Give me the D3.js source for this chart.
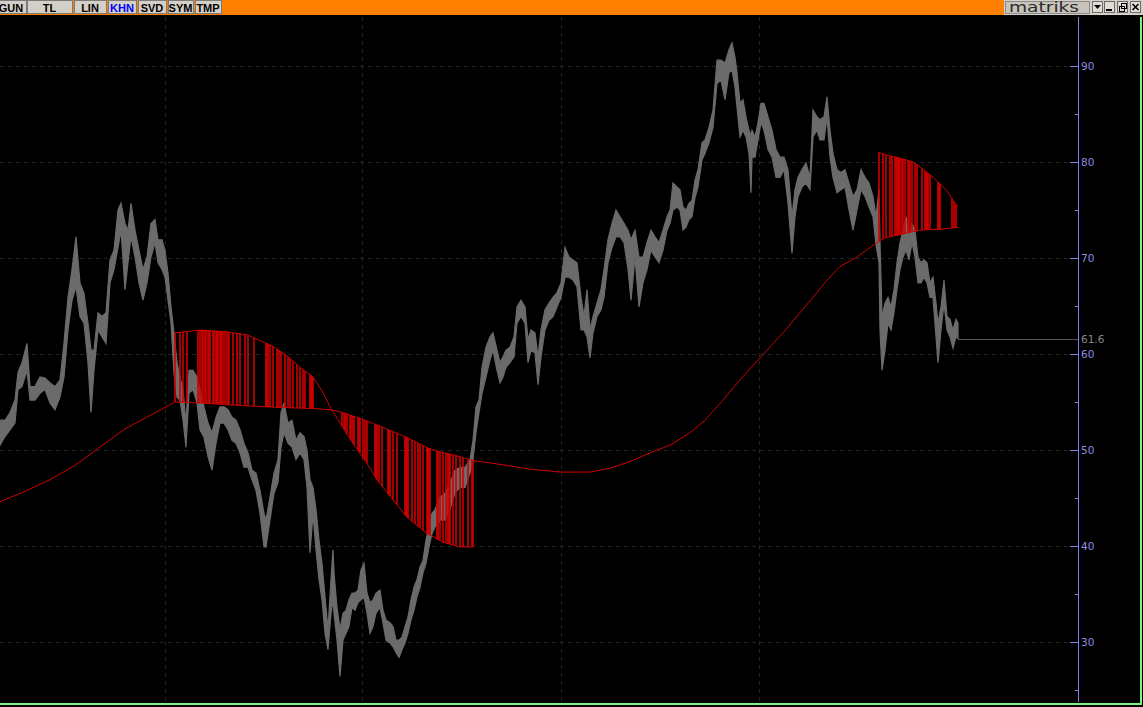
<!DOCTYPE html>
<html><head><meta charset="utf-8">
<script src="https://cdn.jsdelivr.net/npm/d3@7"></script>
<style>
html,body{margin:0;padding:0;background:#000;overflow:hidden}
svg{display:block}
</style></head><body>
<svg id="c" width="1143" height="707"></svg>
<script>
// ---------- data ----------
const tabs = ["GUN","TL","LIN","KHN","SVD","SYM","TMP"];
const activeTab = "KHN";
const brand = "matriks";
const yMajorTicks = [30,40,50,60,70,80,90];
const yMinorTicks = [25,35,45,55,65,75,85];
const yearStartBars = [165,362,561,759];
const lastValue = 61.6;

const priceBars = [
 0,5,10,15,18,22,27,30,35,40,
 45,50,55,60,64,68,72,76,80,84,
 88,91,94,98,102,106,110,114,118,121,
 125,128,131,135,139,143,147,151,155,158,
 162,165,168,171,174,177,180,183,186,189,
 193,197,200,204,208,212,216,220,224,228,
 232,236,240,244,248,252,256,260,264,266,
 270,274,278,281,284,288,292,296,300,304,
 307,310,313,316,319,322,325,328,331,333,
 334,337,340,343,346,349,352,355,358,361,
 364,367,370,373,376,380,383,386,390,393,
 396,399,402,405,408,411,414,417,420,423,
 426,429,432,435,440,445,450,455,460,465,
 470,473,476,479,482,486,490,493,497,500,
 503,506,510,514,517,521,525,528,531,535,
 538,541,545,549,553,557,561,565,569,573,
 577,581,584,587,590,593,597,601,604,608,
 612,616,620,624,628,631,635,639,643,647,
 651,655,659,663,667,670,673,677,680,683,
 686,689,692,695,698,702,705,709,713,717,
 721,725,729,732,735,737,740,743,746,749,
 751,752,755,758,761,764,768,772,776,780,
 784,788,792,795,798,802,806,810,813,817,
 820,824,827,830,833,837,841,845,849,853,
 857,861,865,869,873,876,879,880,882,885,
 888,891,894,897,900,903,906,909,912,915,
 918,921,924,927,930,933,936,938,941,944,
 947,950,953,956,958];
const priceHigh = [
 53.1,53.1,53.9,55.2,58.1,59.1,61.1,56.6,56.6,57.6,
 57.5,57.0,56.6,57.3,61.1,65.9,68.8,72.2,67.4,66.3,
 63.2,60.4,60.4,64.3,63.9,64.3,69.8,70.8,75.0,75.7,
 73.6,72.9,75.7,72.9,70.8,68.8,70.1,73.6,74.0,71.9,
 71.9,70.8,68.4,64.9,62.2,59.1,57.6,56.3,52.8,58.3,
 58.3,57.6,56.3,54.5,52.8,51.8,53.4,54.5,54.5,54.2,
 53.4,53.1,52.1,50.7,49.7,47.9,47.6,45.8,43.4,42.7,
 45.1,47.6,49.0,53.9,54.9,52.8,53.1,51.0,51.8,51.4,
 50.0,46.9,46.1,43.8,40.6,38.2,34.7,31.3,36.5,39.6,
 37.2,33.6,31.3,33.0,33.3,34.4,35.1,35.1,35.4,37.5,
 38.2,35.1,34.1,34.4,35.1,35.4,33.3,32.3,32.0,31.6,
 30.2,30.2,30.5,31.6,32.6,34.4,35.7,36.5,37.8,38.5,
 40.6,42.0,43.4,43.8,45.1,45.5,46.6,47.9,48.2,48.2,
 49.0,51.0,54.5,55.2,58.6,60.7,61.8,62.2,60.4,59.1,
 59.7,60.4,60.7,61.8,64.9,65.6,64.9,61.5,62.5,62.2,
 59.7,62.5,64.6,65.3,65.9,66.4,67.4,71.1,70.1,69.8,
 69.5,65.9,63.9,66.7,62.5,63.9,65.3,66.7,68.8,71.9,
 73.6,75.0,74.3,73.6,72.9,71.9,72.9,70.1,70.1,71.6,
 72.9,72.2,71.6,72.9,74.3,75.0,77.8,77.4,77.1,75.3,
 75.0,75.7,76.0,78.1,79.2,82.0,82.3,83.6,85.4,90.6,
 90.6,90.3,91.7,92.4,90.9,89.3,86.1,86.5,84.7,83.3,
 82.8,83.3,82.6,84.1,86.1,86.1,84.7,83.3,81.3,80.5,
 80.5,79.2,74.3,77.1,78.4,79.2,79.9,78.4,85.4,84.7,
 84.4,84.7,86.8,83.3,80.9,79.2,78.9,79.2,77.8,76.4,
 77.1,79.2,78.4,77.8,76.4,74.3,77.1,71.6,63.9,65.3,
 65.9,64.9,66.7,69.5,71.6,72.9,74.3,72.2,73.6,72.9,
 70.1,69.5,69.8,69.5,67.4,68.0,65.3,63.2,64.9,67.7,
 63.9,63.6,62.5,63.6,63.2];
const priceLow = [
 50.5,51.4,52.1,52.8,56.3,56.6,58.3,55.2,55.2,55.9,
 56.3,54.9,54.2,55.5,57.6,62.5,65.6,67.0,63.9,63.2,
 59.1,53.9,58.3,62.5,61.8,61.1,67.4,68.8,71.1,72.9,
 66.7,69.5,72.2,70.1,67.4,65.6,67.4,70.1,71.6,69.5,
 68.8,68.0,65.6,63.2,58.0,55.5,55.2,53.1,50.3,55.9,
 56.3,54.9,52.1,51.3,49.3,47.9,50.7,52.8,52.8,52.1,
 51.0,50.7,49.7,48.2,48.2,46.9,45.8,43.4,39.9,39.9,
 42.7,45.5,46.6,50.3,51.8,50.7,50.3,49.0,49.7,49.0,
 46.1,39.3,43.4,39.6,36.5,34.4,30.9,29.2,33.0,34.4,
 33.0,30.2,26.4,30.2,30.9,31.6,33.6,33.3,34.1,34.4,
 34.7,33.0,30.9,31.6,33.0,33.6,32.0,30.2,29.9,29.5,
 28.9,28.4,29.2,29.9,30.9,32.3,33.3,34.7,35.7,37.2,
 38.2,39.9,41.3,42.0,42.7,42.7,43.8,45.5,46.1,46.1,
 47.6,49.0,51.8,53.9,55.9,57.6,59.4,60.4,58.3,57.0,
 57.6,58.6,59.1,59.7,63.2,63.9,63.2,59.1,60.4,60.1,
 56.8,59.7,62.5,63.5,63.9,64.9,65.9,68.0,68.0,67.7,
 67.0,62.5,62.5,61.8,59.6,62.2,63.9,64.6,65.9,69.5,
 71.1,72.2,72.2,71.6,68.8,65.6,70.1,64.9,67.4,68.8,
 70.8,70.1,69.5,70.8,72.9,73.6,75.0,75.3,75.0,72.9,
 73.2,74.0,74.3,76.3,77.4,80.2,80.9,82.0,83.6,88.2,
 88.5,86.5,89.3,89.6,87.8,85.7,82.6,83.3,82.6,80.9,
 76.8,80.5,80.5,82.3,84.1,83.3,81.3,80.5,78.4,78.4,
 79.2,75.7,70.5,74.3,76.4,77.4,77.8,77.1,82.6,83.3,
 82.3,82.3,84.7,80.5,78.4,76.8,77.1,77.4,75.0,72.9,
 75.0,77.1,76.4,75.3,74.3,71.4,69.5,62.5,58.3,60.4,
 63.2,62.5,64.3,66.7,68.8,70.1,70.8,69.8,71.6,70.1,
 67.4,67.4,68.0,67.4,65.9,65.9,61.8,59.1,62.5,65.3,
 62.5,61.8,60.6,61.8,61.6];

// long moving average
const maBars = [0,25,50,75,100,125,150,175,200,230,265,315,330,343,365,377,393,407,428,440,453,473,500,530,560,590,610,630,650,670,690,705,723,740,760,783,800,817,827,840,857,870,880,885,903,920,940,958];
const maVals = [44.6,45.7,46.9,48.4,50.3,52.2,53.6,55.0,54.9,54.7,54.5,54.3,54.2,53.9,53.1,52.6,51.9,51.3,50.2,49.8,49.5,48.9,48.5,48.0,47.7,47.7,48.1,48.8,49.7,50.5,51.8,53.1,55.2,57.3,59.6,62.2,64.3,66.4,67.7,69.1,70.1,71.1,71.8,72.1,72.5,72.9,73.0,73.2];

// signal band (first episode)
const bandABars = [175,200,227,247,260,273,287,300,313,323,330,340,353,367,377,393,407,427,443,460,473];
const bandAVals = [62.2,62.5,62.3,62.0,61.4,60.8,59.8,58.6,57.6,56.0,54.5,52.8,50.7,48.6,46.9,44.8,43.0,41.3,40.4,39.9,39.9];
// signal band (second episode)
const bandBBars = [879,887,900,913,920,933,947,953,958];
const bandBVals = [81.0,80.7,80.4,80.0,79.5,78.4,77.0,76.0,75.3];

// bars where the signal line jumps between the MA and the band
const signalBars1 = [175,180,183,187,198,200,202,203,205,206,208,209,210,213,214,216,217,218,220,221,222,224,226,228,229,233,237,240,245,248,254,266,267,268,270,273,277,279,281,285,288,290,293,297,300,303,305,310,311,312,313];
const signalBars2 = [342,344,345,347,350,351,353,354,358,359,360,363,365,367,375,376,377,379,382,388,389,390,393,397,405,406,407,408,412,415,418,420,423,427,428,429,430,437,438,440,443,446,448,449,450,453,456,460,463,468,472,473];
const signalBars3 = [879,883,886,890,892,895,896,897,898,899,900,902,903,905,908,909,910,912,915,917,922,925,926,927,928,930,938,939,940,952,954,956];

(function () {
// ---------- layout ----------
const W = 1143, H = 707;
const axisX = 1078;
const plotTop = 17, plotBottom = 702;
const svg = d3.select("#c");

svg.append("rect").attr("width", W).attr("height", H).attr("fill", "#000");

const x = d3.scaleLinear().domain([0, axisX]).range([0, axisX]);
const y = d3.scaleLinear().domain([23.75, 95.1]).range([plotBottom, plotTop]);

const maAt = d3.scaleLinear().domain(maBars).range(maVals);
const bandAAt = d3.scaleLinear().domain(bandABars).range(bandAVals);
const bandBAt = d3.scaleLinear().domain(bandBBars).range(bandBVals);

// grid
const grid = svg.append("g").attr("stroke", "#232323").attr("stroke-dasharray", "4,4").attr("shape-rendering", "crispEdges");
grid.append("g").selectAll("line").data(yMajorTicks).join("line")
  .attr("x1", 0).attr("x2", axisX - 8)
  .attr("y1", d => Math.round(y(d)) + 0.5).attr("y2", d => Math.round(y(d)) + 0.5);
grid.append("g").selectAll("line").data(yearStartBars).join("line")
  .attr("x1", d => Math.round(x(d)) + 0.5).attr("x2", d => Math.round(x(d)) + 0.5)
  .attr("y1", plotTop).attr("y2", plotBottom);

// price band
const price = priceBars.map((b, i) => ({b, h: priceHigh[i], l: priceLow[i]}));
svg.append("path").datum(price)
  .attr("fill", "#6b6b6b")
  .attr("stroke", "#6b6b6b").attr("stroke-width", 1.2)
  .attr("d", d3.area().x(d => x(d.b)).y0(d => y(d.l)).y1(d => y(d.h)));

// last value line
svg.append("line")
  .attr("x1", x(priceBars[priceBars.length - 1])).attr("x2", axisX)
  .attr("y1", Math.round(y(lastValue)) + 0.5).attr("y2", Math.round(y(lastValue)) + 0.5)
  .attr("stroke", "#555").attr("shape-rendering", "crispEdges");

// moving average and bands
const red = "#d00000";
const lineGen = d3.line().x(d => x(d[0])).y(d => y(d[1]));
svg.append("path").datum(maBars.map((b, i) => [b, maVals[i]]))
  .attr("fill", "none").attr("stroke", red).attr("stroke-width", 1).attr("d", lineGen);
svg.append("path").datum(bandABars.map((b, i) => [b, bandAVals[i]]))
  .attr("fill", "none").attr("stroke", red).attr("stroke-width", 1).attr("d", lineGen);
svg.append("path").datum(bandBBars.map((b, i) => [b, bandBVals[i]]))
  .attr("fill", "none").attr("stroke", red).attr("stroke-width", 1).attr("d", lineGen);

// signal jumps
const sig = svg.append("g").attr("stroke", red).attr("stroke-width", 1.6);
function drawSignals(bars, bandAt) {
  sig.append("g").selectAll("line").data(bars).join("line")
    .attr("x1", d => x(d)).attr("x2", d => x(d))
    .attr("y1", d => y(maAt(d))).attr("y2", d => y(bandAt(d)));
}
drawSignals(signalBars1, bandAAt);
drawSignals(signalBars2, bandAAt);
drawSignals(signalBars3, bandBAt);

// y axis (right)
const axisColor = "#8080e8";
const ax = svg.append("g").attr("shape-rendering", "crispEdges");
ax.append("line").attr("x1", axisX + 0.5).attr("x2", axisX + 0.5).attr("y1", plotTop).attr("y2", plotBottom).attr("stroke", axisColor);
ax.append("g").selectAll("line").data(yMajorTicks).join("line")
  .attr("x1", axisX - 8).attr("x2", axisX)
  .attr("y1", d => Math.round(y(d)) + 0.5).attr("y2", d => Math.round(y(d)) + 0.5)
  .attr("stroke", axisColor);
ax.append("g").selectAll("line").data(yMinorTicks).join("line")
  .attr("x1", axisX - 3).attr("x2", axisX)
  .attr("y1", d => Math.round(y(d)) + 0.5).attr("y2", d => Math.round(y(d)) + 0.5)
  .attr("stroke", axisColor);
svg.append("g").selectAll("text").data(yMajorTicks).join("text")
  .attr("x", axisX + 3).attr("y", d => y(d) + 4)
  .attr("fill", "#8c8ce0").attr("font-family", "DejaVu Sans").attr("font-size", 10.5)
  .text(d => d);
svg.append("text").attr("x", axisX + 3).attr("y", y(lastValue) + 4)
  .attr("fill", "#888").attr("font-family", "DejaVu Sans").attr("font-size", 10.5)
  .text(lastValue.toFixed(1));

// frame (green)
svg.append("rect").attr("x", 1140).attr("y", 16).attr("width", 2).attr("height", 689).attr("fill", "#7df27d");
svg.append("rect").attr("x", 0).attr("y", 703).attr("width", 1142).attr("height", 2).attr("fill", "#7df27d");

// top toolbar
const bar = svg.append("g");
bar.append("rect").attr("x", 0).attr("y", 0).attr("width", W).attr("height", 15).attr("fill", "#ff8000");
bar.append("rect").attr("x", 0).attr("y", 15).attr("width", W).attr("height", 2).attr("fill", "#000");
const tabX = [[-4,26],[27,72],[74,106],[108,136],[138,166],[168,193],[195,221]];
const tg = bar.selectAll("g.tab").data(tabs).join("g");
tg.append("rect").attr("x", (d, i) => tabX[i][0] + 0.5).attr("y", 0.5)
  .attr("width", (d, i) => tabX[i][1] - tabX[i][0]).attr("height", 13)
  .attr("fill", "#d4d0c8").attr("stroke", "#7a7a7a");
tg.append("text").attr("x", (d, i) => (tabX[i][0] + tabX[i][1]) / 2).attr("y", 11.5)
  .attr("text-anchor", "middle").attr("font-family", "Liberation Sans").attr("font-weight", "bold")
  .attr("font-size", 11).attr("fill", d => d === activeTab ? "#0000ff" : "#000").text(d => d);

bar.append("rect").attr("x", 1004).attr("y", 0).attr("width", 139).attr("height", 15).attr("fill", "#d4d0c8");
bar.append("rect").attr("x", 1005.5).attr("y", 1.5).attr("width", 84).attr("height", 12).attr("fill", "#c8c4bc").attr("stroke", "#8a8a8a");
bar.append("text").attr("x", 1009).attr("y", 12).attr("font-family", "DejaVu Sans").attr("font-size", 14)
  .attr("textLength", 70).attr("lengthAdjust", "spacingAndGlyphs").attr("fill", "#2a2a2a").text(brand);
const btnX = [1092, 1104, 1117, 1130];
bar.append("g").selectAll("rect").data(btnX).join("rect")
  .attr("x", d => d + 0.5).attr("y", 1.5).attr("width", 10).attr("height", 11)
  .attr("fill", "#e0ddd6").attr("stroke", "#6a6a6a");
bar.append("path").attr("d", "M1094,5 L1101,5 L1097.5,9 Z").attr("fill", "#000");
bar.append("rect").attr("x", 1106).attr("y", 9).attr("width", 6).attr("height", 2).attr("fill", "#000");
bar.append("rect").attr("x", 1119.5).attr("y", 6.5).attr("width", 5).attr("height", 5).attr("fill", "none").attr("stroke", "#000");
bar.append("rect").attr("x", 1121.5).attr("y", 3.5).attr("width", 5).attr("height", 5).attr("fill", "none").attr("stroke", "#000");
bar.append("path").attr("d", "M1132.5,4 L1138.5,10 M1138.5,4 L1132.5,10").attr("stroke", "#000").attr("stroke-width", 1.6);
})();
</script>
</body></html>
